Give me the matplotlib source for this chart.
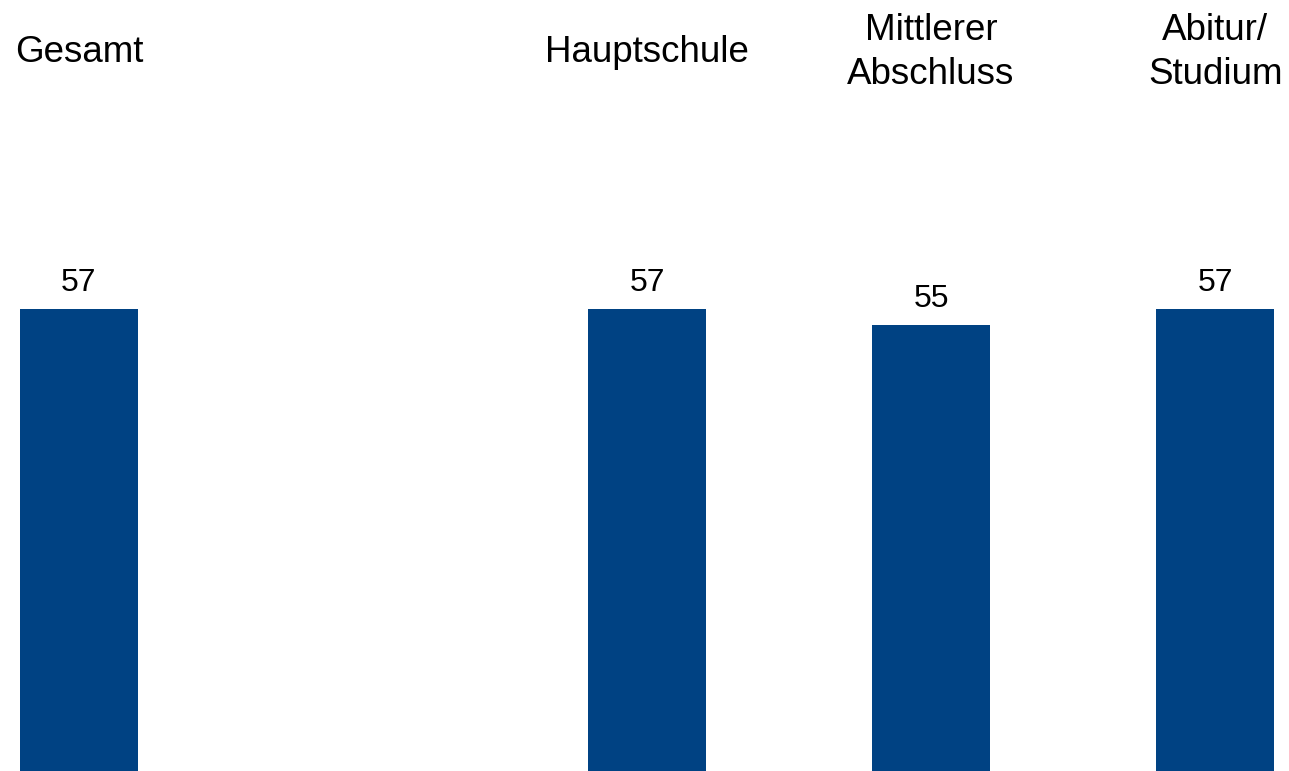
import numpy as np
import matplotlib.pyplot as plt

plt.rcParams['font.family'] = ['Liberation Sans', 'DejaVu Sans']

# slot 1 stays empty to separate the total from the groups
categories = ['Gesamt', 'Hauptschule', 'Mittlerer\nAbschluss', 'Abitur/\nStudium']
slots = [0, 2, 3, 4]
values = [57, 57, 55, 57]

fig = plt.figure(figsize=(12.89, 7.71), dpi=100)
ax = fig.add_axes([0, 0, 1, 1])

bars = ax.bar(slots, values, width=0.415, color='#004283')

for x, v in zip(slots, values):
    ax.text(x, v + 1.4, str(v), ha='center', va='bottom', fontsize=23)

for x, c in zip(slots, categories):
    ax.text(x, 88.6, c, ha='center', va='center', fontsize=26.5, linespacing=1.35)

ax.set_xlim(-0.278, 4.26)
ax.set_ylim(0, 95.1)
ax.axis('off')

fig.savefig('out.png', dpi=100)
